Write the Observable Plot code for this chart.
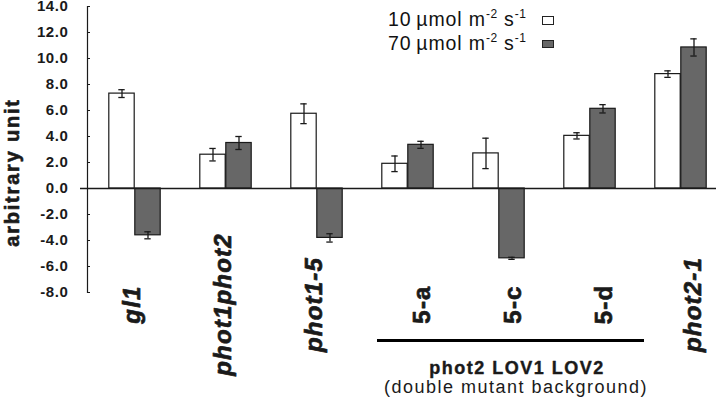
<!DOCTYPE html>
<html>
<head>
<meta charset="utf-8">
<script src="https://cdn.jsdelivr.net/npm/d3@7"></script>
<script src="https://cdn.jsdelivr.net/npm/@observablehq/plot@0.6"></script>
<style>
  body { margin: 0; background: #fff; }
  #wrap { position: relative; width: 716px; height: 404px; overflow: hidden; }
  .ticklab text { letter-spacing: 0.6px; }
  .xlab text { letter-spacing: 1.2px; }
  .ylab text { letter-spacing: 1.8px; }
  .grp text { letter-spacing: 1.5px; }
  #legend { position: absolute; left: 388px; top: 9px; font-family: "Liberation Sans", Arial, sans-serif;
            font-size: 19.5px; line-height: 21px; color: #111; letter-spacing: 0.9px; white-space: nowrap; }
  #legend sup { font-size: 12px; vertical-align: 0; position: relative; top: -8px; letter-spacing: 0.5px; }
  .sw { position: absolute; left: 542px; width: 11.5px; height: 8.5px; box-sizing: border-box; border: 1.2px solid #222; }
</style>
</head>
<body>
<div id="wrap"></div>
<script>
// ---- data ----
const categories = ["gl1", "phot1phot2", "phot1-5", "5-a", "5-c", "5-d", "phot2-1"];
const italicLabels = ["gl1", "phot1phot2", "phot1-5", "phot2-1"];
const lineLabels = ["5-a", "5-c", "5-d"];
const series = ["10", "70"];
const low = [7.3, 2.6, 5.75, 1.9, 2.7, 4.05, 8.8];
const lowErr = [0.3, 0.48, 0.76, 0.6, 1.17, 0.24, 0.25];
const high = [-3.6, 3.5, -3.8, 3.36, -5.37, 6.13, 10.85];
const highErr = [0.27, 0.5, 0.32, 0.27, 0.08, 0.32, 0.66];
const yTicks = [-8, -6, -4, -2, 0, 2, 4, 6, 8, 10, 12, 14];
const yLabel = "arbitrary unit";
const groupTitle = "phot2 LOV1 LOV2";
const groupNote = "(double mutant background)";
const legendLabels = ["10", "70"];

const rows = categories.flatMap((c, i) => [
  {cat: c, s: series[0], v: low[i], e: lowErr[i]},
  {cat: c, s: series[1], v: high[i], e: highErr[i]}
]);
const lowRows = rows.filter(d => d.s === series[0]);
const highRows = rows.filter(d => d.s === series[1]);

const ink = "#1a1a1a";
const grey = "#676767";
const barInset = 32.8;
const capInset = 42.3;
const off = 13;

const errMarks = (data, dx) => [
  Plot.ruleX(data, {x: "cat", y1: d => d.v - d.e, y2: d => d.v + d.e, dx, stroke: ink, strokeWidth: 1.3}),
  Plot.tickY(data, {x: "cat", y: d => d.v + d.e, dx, insetLeft: capInset, insetRight: capInset, stroke: ink, strokeWidth: 1.3}),
  Plot.tickY(data, {x: "cat", y: d => d.v - d.e, dx, insetLeft: capInset, insetRight: capInset, stroke: ink, strokeWidth: 1.3})
];

const xLabel = (labels, dx, italic) => Plot.text(labels, {
  x: d => d, text: d => d, frameAnchor: "bottom", rotate: -90, textAnchor: "middle", lineAnchor: "middle",
  dy: 12, dx, fontSize: 24, fontWeight: "bold", fontStyle: italic ? "italic" : "normal",
  fill: ink, stroke: ink, strokeWidth: 0.7, className: "xlab"
});

const chart = Plot.plot({
  width: 716,
  height: 404,
  marginLeft: 87,
  marginRight: -12,
  marginTop: 6,
  marginBottom: 112,
  style: {fontFamily: "'Liberation Sans', Arial, sans-serif", color: ink, background: "#fff", overflow: "hidden"},
  x: {domain: categories, padding: 0, axis: null},
  y: {domain: [-8, 14], axis: null},
  color: {domain: series, range: ["#ffffff", grey]},
  marks: [
    Plot.axisY({ticks: yTicks, tickFormat: d => d.toFixed(1), tickSize: -3, tickPadding: 22,
      fontSize: 15, fontWeight: "bold", label: null, stroke: ink, className: "ticklab"}),
    Plot.frame({anchor: "left", stroke: ink, strokeWidth: 1.2}),
    Plot.barY(lowRows, {x: "cat", y: "v", fill: "s", stroke: ink, strokeWidth: 1.2, insetLeft: barInset, insetRight: barInset, dx: -off}),
    Plot.barY(highRows, {x: "cat", y: "v", fill: "s", stroke: ink, strokeWidth: 1.2, insetLeft: barInset, insetRight: barInset, dx: off}),
    ...errMarks(lowRows, -off),
    ...errMarks(highRows, off),
    Plot.ruleY([0], {insetLeft: -7, stroke: ink, strokeWidth: 1.5}),
    Plot.text([yLabel], {frameAnchor: "left", rotate: -90, textAnchor: "middle", dx: -75, dy: 23, fontSize: 20,
      fontWeight: "bold", fill: ink, stroke: ink, strokeWidth: 0.6, className: "ylab"}),
    xLabel(italicLabels.slice(0, 3), -3, true),
    xLabel(italicLabels.slice(3), 12, true),
    xLabel(lineLabels, 14, false),
    Plot.ruleY([yTicks[0]], {x1: () => lineLabels[0], x2: () => lineLabels[lineLabels.length - 1], dy: 48,
      insetLeft: 15, insetRight: -9, stroke: "#000", strokeWidth: 3}),
    Plot.text([groupTitle], {x: () => lineLabels[1], frameAnchor: "bottom", lineAnchor: "bottom", dy: 81, dx: 18,
      fontSize: 18, fontWeight: "bold", fill: ink, stroke: ink, strokeWidth: 0.4, className: "grp"}),
    Plot.text([groupNote], {x: () => lineLabels[1], frameAnchor: "bottom", lineAnchor: "bottom", dy: 100, dx: 17,
      fontSize: 18, fill: ink, className: "grp"})
  ]
});

const wrap = document.getElementById("wrap");
wrap.appendChild(chart);

// legend (HTML overlay)
const leg = document.createElement("div");
leg.id = "legend";
leg.innerHTML = legendLabels.map(v => `<div>${v}\u2009\u00b5mol m<sup>-2</sup> s<sup>-1</sup></div>`).join("");
wrap.appendChild(leg);
const c = Plot.scale({color: {domain: series, range: ["#ffffff", grey]}});
[16, 39.5].forEach((top, i) => {
  const sw = document.createElement("div");
  sw.className = "sw";
  sw.style.top = top + "px";
  sw.style.background = c.apply(series[i]);
  wrap.appendChild(sw);
});
</script>
</body>
</html>
